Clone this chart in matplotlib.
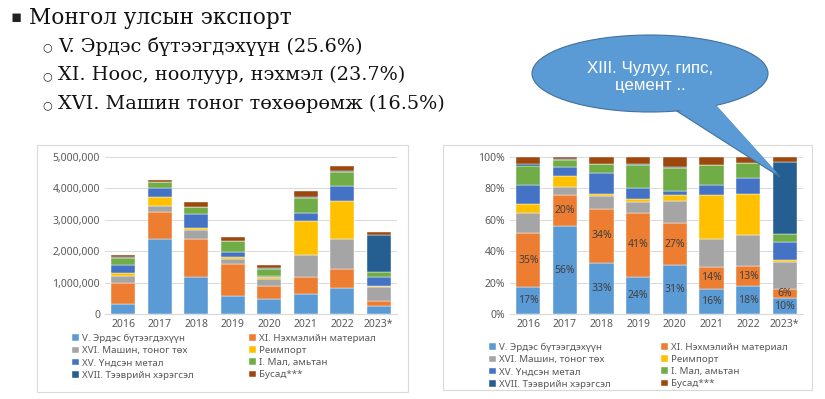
"""
Mongolian exports by product group, 2016-2023: stacked values and shares.
"""
import numpy as np
import matplotlib
matplotlib.use("Agg")
import matplotlib.pyplot as plt
from matplotlib.patches import Ellipse, Polygon, Rectangle
from matplotlib.ticker import FuncFormatter

W, H = 825, 399

years = ["2016", "2017", "2018", "2019", "2020", "2021", "2022", "2023*"]
series_names = [
    "V. Эрдэс бүтээгдэхүүн", "XI. Нэхмэлийн материал",
    "XVI. Машин, тоног төх", "Реимпорт",
    "XV. Үндсэн метал", "I. Мал, амьтан",
    "XVII. Тээврийн хэрэгсэл", "Бусад***",
]
colors = ["#5B9BD5", "#ED7D31", "#A5A5A5", "#FFC000",
          "#4472C4", "#70AD47", "#255E91", "#9E480E"]

# export values per group (USD thousand)
mineral   = [320000, 2390000, 1170000, 580000, 480000, 630000, 830000, 260000]
textile   = [660000, 850000, 1220000, 1000000, 420000, 540000, 600000, 160000]
machinery = [230000, 210000, 300000, 170000, 220000, 710000, 950000, 450000]
reimport  = [110000, 290000, 50000, 50000, 50000, 1080000, 1220000, 30000]
metal     = [230000, 260000, 460000, 170000, 40000, 260000, 480000, 290000]
livestock = [230000, 190000, 200000, 360000, 230000, 480000, 450000, 140000]
vehicles  = [20000, 20000, 10000, 10000, 10000, 20000, 10000, 1200000]
other     = [90000, 60000, 160000, 110000, 100000, 190000, 180000, 80000]

values = np.array([mineral, textile, machinery, reimport,
                   metal, livestock, vehicles, other], dtype=float)
shares = values / values.sum(axis=0)

headline = "Монгол улсын экспорт"
bullets = [
    "V. Эрдэс бүтээгдэхүүн (25.6%)",
    "XI. Ноос, ноолуур, нэхмэл (23.7%)",
    "XVI. Машин тоног төхөөрөмж (16.5%)",
]
callout = "XIII. Чулуу, гипс,\nцемент .."

SANS = ["Noto Sans", "DejaVu Sans"]
SERIF = ["DejaVu Serif", "DejaVu Sans"]
plt.rcParams["font.family"] = SANS
GREY = "#595959"


def px_axes(fig, x0, y0, x1, y1):
    return fig.add_axes([x0 / W, 1 - y1 / H, (x1 - x0) / W, (y1 - y0) / H])


def style_axes(ax):
    for s in ["left", "right", "top"]:
        ax.spines[s].set_visible(False)
    ax.spines["bottom"].set_color("#D9D9D9")
    ax.grid(axis="y", color="#D9D9D9", lw=0.7)
    ax.set_axisbelow(True)
    ax.tick_params(length=0, colors=GREY, labelsize=7.5)
    ax.set_xlim(-0.5, len(years) - 0.5)


def stacked(ax, data):
    x = np.arange(len(years))
    bottom = np.zeros(len(years))
    bars = []
    for row, c in zip(data, colors):
        b = ax.bar(x, row, 0.66, bottom=bottom, color=c, edgecolor="white", lw=0.3)
        bars.append(b)
        bottom += row
    return bars


def add_legend(fig, bars, x_cols, y_top):
    order = [[0, 2, 4, 6], [1, 3, 5, 7]]
    for col, xc in zip(order, x_cols):
        leg = fig.legend([bars[i] for i in col], [series_names[i] for i in col],
                         loc="upper left", bbox_to_anchor=(xc / W, 1 - y_top / H),
                         frameon=False, fontsize=7, handlelength=0.7, handleheight=0.7,
                         handletextpad=0.3, labelspacing=0.32, borderpad=0,
                         borderaxespad=0)
        for t in leg.get_texts():
            t.set_color(GREY)


fig = plt.figure(figsize=(W / 100, H / 100), dpi=100)
fig.patch.set_facecolor("white")

# overlay in pixel coords for frames, text and callout
ov = fig.add_axes([0, 0, 1, 1], zorder=5)
ov.set_xlim(0, W)
ov.set_ylim(H, 0)
ov.axis("off")
ov.patch.set_alpha(0)

ov.add_patch(Rectangle((37, 145), 371, 247, fill=False, ec="#D9D9D9", lw=0.8))
ov.add_patch(Rectangle((443, 145), 369, 245, fill=False, ec="#D9D9D9", lw=0.8))

ov.text(11, 18, "▪", fontsize=12, va="center", family=SERIF, color="#222222")
ov.text(29, 18, headline, fontsize=15.6, va="center", family=SERIF, color="#111111")
for i, line in enumerate(bullets):
    y = 46 + i * 29
    ov.text(42, y + 1, "○", fontsize=8, va="center", family=SERIF, color="#222222")
    ov.text(58, y, line, fontsize=13.9, va="center", family=SERIF, color="#111111")

# left: absolute values
ax1 = px_axes(fig, 105, 157, 397, 314)
bars = stacked(ax1, values)
style_axes(ax1)
ax1.set_ylim(0, 5000000)
ax1.set_yticks(np.arange(0, 5000001, 1000000))
ax1.yaxis.set_major_formatter(FuncFormatter(lambda v, _: f"{v:,.0f}"))
ax1.set_xticks(range(len(years)))
ax1.set_xticklabels(years)
add_legend(fig, bars, [72, 249], 334)

# right: shares
ax2 = px_axes(fig, 510, 157, 803, 314)
bars2 = stacked(ax2, shares)
style_axes(ax2)
ax2.set_ylim(0, 1)
ax2.set_yticks(np.arange(0, 1.01, 0.2))
ax2.yaxis.set_major_formatter(FuncFormatter(lambda v, _: f"{v:.0%}"))
ax2.set_xticks(range(len(years)))
ax2.set_xticklabels(years)
for k in range(2):
    ax2.bar_label(bars2[k], labels=[f"{v:.0%}" for v in shares[k]],
                  label_type="center", fontsize=7.5, color="#404040")
add_legend(fig, bars2, [489, 661], 343)

# callout bubble
ov.add_patch(Polygon([(672, 108), (716, 106), (780, 177)], closed=True,
                     fc="#5B9BD5", ec="#41719C", lw=0.8, zorder=6))
ov.add_patch(Ellipse((650, 73.5), 236, 77, fc="#5B9BD5", ec="#41719C", lw=0.8, zorder=7))
ov.add_patch(Polygon([(673, 106), (715, 104), (778, 174)], closed=True,
                     fc="#5B9BD5", ec="none", zorder=8))
ov.text(650, 77, callout, fontsize=12.2, ha="center", va="center", color="white",
        family=["Liberation Sans", "DejaVu Sans"], linespacing=1.2, zorder=9)

fig.savefig("out.png", dpi=100)
